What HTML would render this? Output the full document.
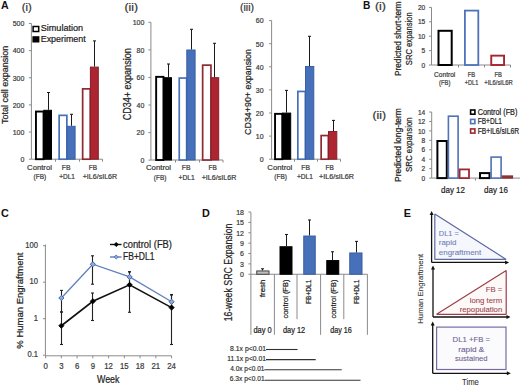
<!DOCTYPE html>
<html><head><meta charset="utf-8"><style>
html,body{margin:0;padding:0;background:#fff;}
svg{display:block;font-family:"Liberation Sans", sans-serif;}
</style></head><body>
<svg width="520" height="386" viewBox="0 0 520 386">
<rect width="520" height="386" fill="#fff"/>
<text transform="translate(0.9,9.3)" font-size="10.6" text-anchor="start" font-weight="bold" fill="#111">A</text>
<text transform="translate(21.8,10.6)" font-size="11" text-anchor="start" font-weight="normal" fill="#333" textLength="10" lengthAdjust="spacingAndGlyphs" stroke="#333" stroke-width="0.22">(i)</text>
<line x1="31.4" y1="23.5" x2="31.4" y2="159.2" stroke="#8A8A8A" stroke-width="1"/>
<line x1="28.9" y1="159.2" x2="31.4" y2="159.2" stroke="#8A8A8A" stroke-width="1"/>
<text transform="translate(24.3,162.02239999999998) scale(0.8929,1)" font-size="7.840000000000001" text-anchor="end" font-weight="normal" fill="#3A3A3A" stroke="#3A3A3A" stroke-width="0.22">0</text>
<line x1="28.9" y1="132.06" x2="31.4" y2="132.06" stroke="#8A8A8A" stroke-width="1"/>
<text transform="translate(24.3,134.8824) scale(0.8929,1)" font-size="7.840000000000001" text-anchor="end" font-weight="normal" fill="#3A3A3A" stroke="#3A3A3A" stroke-width="0.22">100</text>
<line x1="28.9" y1="104.91999999999999" x2="31.4" y2="104.91999999999999" stroke="#8A8A8A" stroke-width="1"/>
<text transform="translate(24.3,107.74239999999999) scale(0.8929,1)" font-size="7.840000000000001" text-anchor="end" font-weight="normal" fill="#3A3A3A" stroke="#3A3A3A" stroke-width="0.22">200</text>
<line x1="28.9" y1="77.78" x2="31.4" y2="77.78" stroke="#8A8A8A" stroke-width="1"/>
<text transform="translate(24.3,80.6024) scale(0.8929,1)" font-size="7.840000000000001" text-anchor="end" font-weight="normal" fill="#3A3A3A" stroke="#3A3A3A" stroke-width="0.22">300</text>
<line x1="28.9" y1="50.64" x2="31.4" y2="50.64" stroke="#8A8A8A" stroke-width="1"/>
<text transform="translate(24.3,53.4624) scale(0.8929,1)" font-size="7.840000000000001" text-anchor="end" font-weight="normal" fill="#3A3A3A" stroke="#3A3A3A" stroke-width="0.22">400</text>
<line x1="28.9" y1="23.5" x2="31.4" y2="23.5" stroke="#8A8A8A" stroke-width="1"/>
<text transform="translate(24.3,26.322400000000002) scale(0.8929,1)" font-size="7.840000000000001" text-anchor="end" font-weight="normal" fill="#3A3A3A" stroke="#3A3A3A" stroke-width="0.22">500</text>
<line x1="31.4" y1="159.2" x2="102.5" y2="159.2" stroke="#8A8A8A" stroke-width="1"/>
<line x1="55.5" y1="159.2" x2="55.5" y2="161.7" stroke="#8A8A8A" stroke-width="1"/>
<line x1="79.5" y1="159.2" x2="79.5" y2="161.7" stroke="#8A8A8A" stroke-width="1"/>
<line x1="102.5" y1="159.2" x2="102.5" y2="161.7" stroke="#8A8A8A" stroke-width="1"/>
<rect x="35.95" y="111.55" width="7.6" height="47.64999999999999" fill="#fff" stroke="#000" stroke-width="1.9"/>
<rect x="43.8" y="110.3" width="7.700000000000003" height="48.89999999999999" fill="#000" stroke="#000" stroke-width="1"/>
<line x1="48.5" y1="92.5" x2="48.5" y2="109.8" stroke="#1a1a1a" stroke-width="1.05"/>
<line x1="47.0" y1="92.5" x2="50.0" y2="92.5" stroke="#1a1a1a" stroke-width="1.05"/>
<rect x="59.15" y="115.35" width="7.7000000000000055" height="43.84999999999999" fill="#fff" stroke="#4770BA" stroke-width="1.7"/>
<rect x="67.0" y="126.3" width="8.099999999999994" height="32.89999999999999" fill="#4770BA" stroke="#3A5FA3" stroke-width="1"/>
<line x1="71.5" y1="114.3" x2="71.5" y2="125.8" stroke="#1a1a1a" stroke-width="1.05"/>
<line x1="70.0" y1="114.3" x2="73.0" y2="114.3" stroke="#1a1a1a" stroke-width="1.05"/>
<rect x="82.64999999999999" y="88.85" width="7.600000000000011" height="70.35" fill="#fff" stroke="#8E2A30" stroke-width="1.7"/>
<rect x="90.4" y="67.1" width="7.8999999999999915" height="92.1" fill="#AC2530" stroke="#86202A" stroke-width="1"/>
<line x1="94.5" y1="40.9" x2="94.5" y2="66.6" stroke="#1a1a1a" stroke-width="1.05"/>
<line x1="93.0" y1="40.9" x2="96.0" y2="40.9" stroke="#1a1a1a" stroke-width="1.05"/>
<rect x="33.1" y="26.5" width="5.6" height="5" fill="#fff" stroke="#000" stroke-width="1.5"/>
<text transform="translate(40.7,31.3)" font-size="9.3" text-anchor="start" font-weight="normal" fill="#222" textLength="42.5" lengthAdjust="spacingAndGlyphs" stroke="#222" stroke-width="0.22">Simulation</text>
<rect x="32.4" y="36.2" width="7" height="6.3" fill="#000" stroke="none" stroke-width="1"/>
<text transform="translate(40.7,41.9)" font-size="9.3" text-anchor="start" font-weight="normal" fill="#222" textLength="45" lengthAdjust="spacingAndGlyphs" stroke="#222" stroke-width="0.22">Experiment</text>
<text transform="translate(39.5,169.9)" font-size="7.3" text-anchor="middle" font-weight="normal" fill="#3A3A3A" textLength="24.8" lengthAdjust="spacingAndGlyphs" stroke="#3A3A3A" stroke-width="0.22">Control</text>
<text transform="translate(39.9,179.2)" font-size="7.3" text-anchor="middle" font-weight="normal" fill="#3A3A3A" textLength="12.6" lengthAdjust="spacingAndGlyphs" stroke="#3A3A3A" stroke-width="0.22">(FB)</text>
<text transform="translate(66.1,169.9)" font-size="7.3" text-anchor="middle" font-weight="normal" fill="#3A3A3A" textLength="8.7" lengthAdjust="spacingAndGlyphs" stroke="#3A3A3A" stroke-width="0.22">FB</text>
<text transform="translate(67.1,179.2)" font-size="7.3" text-anchor="middle" font-weight="normal" fill="#3A3A3A" textLength="15.8" lengthAdjust="spacingAndGlyphs" stroke="#3A3A3A" stroke-width="0.22">+DL1</text>
<text transform="translate(92.9,169.9)" font-size="7.3" text-anchor="middle" font-weight="normal" fill="#3A3A3A" textLength="8.3" lengthAdjust="spacingAndGlyphs" stroke="#3A3A3A" stroke-width="0.22">FB</text>
<text transform="translate(99.9,179.2)" font-size="7.3" text-anchor="middle" font-weight="normal" fill="#3A3A3A" textLength="34.4" lengthAdjust="spacingAndGlyphs" stroke="#3A3A3A" stroke-width="0.22">+IL6/sIL6R</text>
<text transform="translate(7.9,84.9) rotate(-90)" font-size="9.67" text-anchor="middle" font-weight="normal" fill="#222" textLength="78.3" lengthAdjust="spacingAndGlyphs" stroke="#222" stroke-width="0.22">Total cell expansion</text>
<text transform="translate(124.5,10.6)" font-size="11" text-anchor="start" font-weight="normal" fill="#333" textLength="13.5" lengthAdjust="spacingAndGlyphs" stroke="#333" stroke-width="0.22">(ii)</text>
<line x1="150.9" y1="22.3" x2="150.9" y2="160.0" stroke="#8A8A8A" stroke-width="1"/>
<line x1="148.4" y1="160.15" x2="150.9" y2="160.15" stroke="#8A8A8A" stroke-width="1"/>
<text transform="translate(144.3,162.9724) scale(0.8929,1)" font-size="7.840000000000001" text-anchor="end" font-weight="normal" fill="#3A3A3A" stroke="#3A3A3A" stroke-width="0.22">0</text>
<line x1="148.4" y1="132.58" x2="150.9" y2="132.58" stroke="#8A8A8A" stroke-width="1"/>
<text transform="translate(144.3,135.4024) scale(0.8929,1)" font-size="7.840000000000001" text-anchor="end" font-weight="normal" fill="#3A3A3A" stroke="#3A3A3A" stroke-width="0.22">20</text>
<line x1="148.4" y1="105.01" x2="150.9" y2="105.01" stroke="#8A8A8A" stroke-width="1"/>
<text transform="translate(144.3,107.8324) scale(0.8929,1)" font-size="7.840000000000001" text-anchor="end" font-weight="normal" fill="#3A3A3A" stroke="#3A3A3A" stroke-width="0.22">40</text>
<line x1="148.4" y1="77.44" x2="150.9" y2="77.44" stroke="#8A8A8A" stroke-width="1"/>
<text transform="translate(144.3,80.2624) scale(0.8929,1)" font-size="7.840000000000001" text-anchor="end" font-weight="normal" fill="#3A3A3A" stroke="#3A3A3A" stroke-width="0.22">60</text>
<line x1="148.4" y1="49.870000000000005" x2="150.9" y2="49.870000000000005" stroke="#8A8A8A" stroke-width="1"/>
<text transform="translate(144.3,52.692400000000006) scale(0.8929,1)" font-size="7.840000000000001" text-anchor="end" font-weight="normal" fill="#3A3A3A" stroke="#3A3A3A" stroke-width="0.22">80</text>
<line x1="148.4" y1="22.3" x2="150.9" y2="22.3" stroke="#8A8A8A" stroke-width="1"/>
<text transform="translate(144.3,25.122400000000003) scale(0.8929,1)" font-size="7.840000000000001" text-anchor="end" font-weight="normal" fill="#3A3A3A" stroke="#3A3A3A" stroke-width="0.22">100</text>
<line x1="150.9" y1="160.0" x2="223" y2="160.0" stroke="#8A8A8A" stroke-width="1"/>
<line x1="175.5" y1="160.0" x2="175.5" y2="162.5" stroke="#8A8A8A" stroke-width="1"/>
<line x1="199.5" y1="160.0" x2="199.5" y2="162.5" stroke="#8A8A8A" stroke-width="1"/>
<line x1="223" y1="160.0" x2="223" y2="162.5" stroke="#8A8A8A" stroke-width="1"/>
<rect x="156.14999999999998" y="76.85000000000001" width="7.299999999999988" height="83.14999999999999" fill="#fff" stroke="#000" stroke-width="1.9"/>
<rect x="163.7" y="77.7" width="7.800000000000011" height="82.3" fill="#000" stroke="#000" stroke-width="1"/>
<line x1="168.5" y1="64.0" x2="168.5" y2="77.2" stroke="#1a1a1a" stroke-width="1.05"/>
<line x1="167.0" y1="64.0" x2="170.0" y2="64.0" stroke="#1a1a1a" stroke-width="1.05"/>
<rect x="179.25" y="78.05" width="7.399999999999994" height="81.95" fill="#fff" stroke="#4770BA" stroke-width="1.7"/>
<rect x="186.8" y="50.0" width="8.299999999999983" height="110.0" fill="#4770BA" stroke="#3A5FA3" stroke-width="1"/>
<line x1="191.5" y1="29.3" x2="191.5" y2="49.5" stroke="#1a1a1a" stroke-width="1.05"/>
<line x1="190.0" y1="29.3" x2="193.0" y2="29.3" stroke="#1a1a1a" stroke-width="1.05"/>
<rect x="202.65" y="65.14999999999999" width="8.299999999999972" height="94.85000000000001" fill="#fff" stroke="#8E2A30" stroke-width="1.7"/>
<rect x="211.1" y="77.7" width="7.599999999999994" height="82.3" fill="#AC2530" stroke="#86202A" stroke-width="1"/>
<line x1="214.5" y1="43.3" x2="214.5" y2="77.2" stroke="#1a1a1a" stroke-width="1.05"/>
<line x1="213.0" y1="43.3" x2="216.0" y2="43.3" stroke="#1a1a1a" stroke-width="1.05"/>
<text transform="translate(158.5,170.4)" font-size="7.3" text-anchor="middle" font-weight="normal" fill="#3A3A3A" textLength="25.2" lengthAdjust="spacingAndGlyphs" stroke="#3A3A3A" stroke-width="0.22">Control</text>
<text transform="translate(160.1,179.5)" font-size="7.3" text-anchor="middle" font-weight="normal" fill="#3A3A3A" textLength="12.6" lengthAdjust="spacingAndGlyphs" stroke="#3A3A3A" stroke-width="0.22">(FB)</text>
<text transform="translate(186.2,170.4)" font-size="7.3" text-anchor="middle" font-weight="normal" fill="#3A3A3A" textLength="8.7" lengthAdjust="spacingAndGlyphs" stroke="#3A3A3A" stroke-width="0.22">FB</text>
<text transform="translate(186.7,179.5)" font-size="7.3" text-anchor="middle" font-weight="normal" fill="#3A3A3A" textLength="16.2" lengthAdjust="spacingAndGlyphs" stroke="#3A3A3A" stroke-width="0.22">+DL1</text>
<text transform="translate(212.6,170.4)" font-size="7.3" text-anchor="middle" font-weight="normal" fill="#3A3A3A" textLength="8.3" lengthAdjust="spacingAndGlyphs" stroke="#3A3A3A" stroke-width="0.22">FB</text>
<text transform="translate(219.0,179.5)" font-size="7.3" text-anchor="middle" font-weight="normal" fill="#3A3A3A" textLength="34.6" lengthAdjust="spacingAndGlyphs" stroke="#3A3A3A" stroke-width="0.22">+IL6/sIL6R</text>
<text transform="translate(131.3,84.3) rotate(-90)" font-size="10.16" text-anchor="middle" font-weight="normal" fill="#222" textLength="72.0" lengthAdjust="spacingAndGlyphs" stroke="#222" stroke-width="0.22">CD34+ expansion</text>
<text transform="translate(240,10.6)" font-size="11" text-anchor="start" font-weight="normal" fill="#333" textLength="14" lengthAdjust="spacingAndGlyphs" stroke="#333" stroke-width="0.22">(iii)</text>
<line x1="271.6" y1="20.6" x2="271.6" y2="159.2" stroke="#8A8A8A" stroke-width="1"/>
<line x1="269.1" y1="159.2" x2="271.6" y2="159.2" stroke="#8A8A8A" stroke-width="1"/>
<text transform="translate(263.6,162.02239999999998) scale(0.8929,1)" font-size="7.840000000000001" text-anchor="end" font-weight="normal" fill="#3A3A3A" stroke="#3A3A3A" stroke-width="0.22">0</text>
<line x1="269.1" y1="136.1" x2="271.6" y2="136.1" stroke="#8A8A8A" stroke-width="1"/>
<text transform="translate(263.6,138.92239999999998) scale(0.8929,1)" font-size="7.840000000000001" text-anchor="end" font-weight="normal" fill="#3A3A3A" stroke="#3A3A3A" stroke-width="0.22">10</text>
<line x1="269.1" y1="112.99999999999999" x2="271.6" y2="112.99999999999999" stroke="#8A8A8A" stroke-width="1"/>
<text transform="translate(263.6,115.82239999999999) scale(0.8929,1)" font-size="7.840000000000001" text-anchor="end" font-weight="normal" fill="#3A3A3A" stroke="#3A3A3A" stroke-width="0.22">20</text>
<line x1="269.1" y1="89.89999999999999" x2="271.6" y2="89.89999999999999" stroke="#8A8A8A" stroke-width="1"/>
<text transform="translate(263.6,92.7224) scale(0.8929,1)" font-size="7.840000000000001" text-anchor="end" font-weight="normal" fill="#3A3A3A" stroke="#3A3A3A" stroke-width="0.22">30</text>
<line x1="269.1" y1="66.79999999999998" x2="271.6" y2="66.79999999999998" stroke="#8A8A8A" stroke-width="1"/>
<text transform="translate(263.6,69.62239999999998) scale(0.8929,1)" font-size="7.840000000000001" text-anchor="end" font-weight="normal" fill="#3A3A3A" stroke="#3A3A3A" stroke-width="0.22">40</text>
<line x1="269.1" y1="43.69999999999999" x2="271.6" y2="43.69999999999999" stroke="#8A8A8A" stroke-width="1"/>
<text transform="translate(263.6,46.52239999999999) scale(0.8929,1)" font-size="7.840000000000001" text-anchor="end" font-weight="normal" fill="#3A3A3A" stroke="#3A3A3A" stroke-width="0.22">50</text>
<line x1="269.1" y1="20.599999999999994" x2="271.6" y2="20.599999999999994" stroke="#8A8A8A" stroke-width="1"/>
<text transform="translate(263.6,23.422399999999996) scale(0.8929,1)" font-size="7.840000000000001" text-anchor="end" font-weight="normal" fill="#3A3A3A" stroke="#3A3A3A" stroke-width="0.22">60</text>
<line x1="271.6" y1="159.2" x2="340.5" y2="159.2" stroke="#8A8A8A" stroke-width="1"/>
<line x1="294.5" y1="159.2" x2="294.5" y2="161.7" stroke="#8A8A8A" stroke-width="1"/>
<line x1="317.5" y1="159.2" x2="317.5" y2="161.7" stroke="#8A8A8A" stroke-width="1"/>
<line x1="340.5" y1="159.2" x2="340.5" y2="161.7" stroke="#8A8A8A" stroke-width="1"/>
<rect x="275.05" y="113.85000000000001" width="7.1999999999999655" height="45.34999999999998" fill="#fff" stroke="#000" stroke-width="1.9"/>
<rect x="282.5" y="113.1" width="8.199999999999989" height="46.099999999999994" fill="#000" stroke="#000" stroke-width="1"/>
<line x1="286.5" y1="90.4" x2="286.5" y2="112.6" stroke="#1a1a1a" stroke-width="1.05"/>
<line x1="285.0" y1="90.4" x2="288.0" y2="90.4" stroke="#1a1a1a" stroke-width="1.05"/>
<rect x="297.85" y="91.44999999999999" width="7.4999999999999885" height="67.75" fill="#fff" stroke="#4770BA" stroke-width="1.7"/>
<rect x="305.5" y="66.5" width="8.300000000000011" height="92.69999999999999" fill="#4770BA" stroke="#3A5FA3" stroke-width="1"/>
<line x1="309.5" y1="36.3" x2="309.5" y2="66.0" stroke="#1a1a1a" stroke-width="1.05"/>
<line x1="308.0" y1="36.3" x2="311.0" y2="36.3" stroke="#1a1a1a" stroke-width="1.05"/>
<rect x="321.15000000000003" y="135.54999999999998" width="7.199999999999977" height="23.65" fill="#fff" stroke="#8E2A30" stroke-width="1.7"/>
<rect x="328.5" y="131.5" width="8.300000000000011" height="27.69999999999999" fill="#AC2530" stroke="#86202A" stroke-width="1"/>
<line x1="333.5" y1="120.4" x2="333.5" y2="131.0" stroke="#1a1a1a" stroke-width="1.05"/>
<line x1="332.0" y1="120.4" x2="335.0" y2="120.4" stroke="#1a1a1a" stroke-width="1.05"/>
<text transform="translate(279.8,169.8)" font-size="7.3" text-anchor="middle" font-weight="normal" fill="#3A3A3A" textLength="25.0" lengthAdjust="spacingAndGlyphs" stroke="#3A3A3A" stroke-width="0.22">Control</text>
<text transform="translate(280.6,178.9)" font-size="7.3" text-anchor="middle" font-weight="normal" fill="#3A3A3A" textLength="12.6" lengthAdjust="spacingAndGlyphs" stroke="#3A3A3A" stroke-width="0.22">(FB)</text>
<text transform="translate(305.7,169.8)" font-size="7.3" text-anchor="middle" font-weight="normal" fill="#3A3A3A" textLength="8.7" lengthAdjust="spacingAndGlyphs" stroke="#3A3A3A" stroke-width="0.22">FB</text>
<text transform="translate(304.9,178.9)" font-size="7.3" text-anchor="middle" font-weight="normal" fill="#3A3A3A" textLength="16" lengthAdjust="spacingAndGlyphs" stroke="#3A3A3A" stroke-width="0.22">+DL1</text>
<text transform="translate(329.7,169.8)" font-size="7.3" text-anchor="middle" font-weight="normal" fill="#3A3A3A" textLength="8.3" lengthAdjust="spacingAndGlyphs" stroke="#3A3A3A" stroke-width="0.22">FB</text>
<text transform="translate(336.5,178.9)" font-size="7.3" text-anchor="middle" font-weight="normal" fill="#3A3A3A" textLength="35" lengthAdjust="spacingAndGlyphs" stroke="#3A3A3A" stroke-width="0.22">+IL6/sIL6R</text>
<text transform="translate(250.7,92.0) rotate(-90)" font-size="9.98" text-anchor="middle" font-weight="normal" fill="#222" textLength="85.9" lengthAdjust="spacingAndGlyphs" stroke="#222" stroke-width="0.22">CD34+90+ expansion</text>
<text transform="translate(363,9)" font-size="10.2" text-anchor="start" font-weight="bold" fill="#111">B</text>
<text transform="translate(374.9,9.8)" font-size="11" text-anchor="start" font-weight="normal" fill="#333" textLength="11" lengthAdjust="spacingAndGlyphs" stroke="#333" stroke-width="0.22">(i)</text>
<line x1="431.5" y1="7.4" x2="431.5" y2="65.0" stroke="#8A8A8A" stroke-width="1"/>
<line x1="429.0" y1="65.0" x2="431.5" y2="65.0" stroke="#8A8A8A" stroke-width="1"/>
<text transform="translate(425.3,67.66112) scale(0.8929,1)" font-size="7.392" text-anchor="end" font-weight="normal" fill="#3A3A3A" stroke="#3A3A3A" stroke-width="0.22">0</text>
<line x1="429.0" y1="50.6" x2="431.5" y2="50.6" stroke="#8A8A8A" stroke-width="1"/>
<text transform="translate(425.3,53.26112) scale(0.8929,1)" font-size="7.392" text-anchor="end" font-weight="normal" fill="#3A3A3A" stroke="#3A3A3A" stroke-width="0.22">5</text>
<line x1="429.0" y1="36.2" x2="431.5" y2="36.2" stroke="#8A8A8A" stroke-width="1"/>
<text transform="translate(425.3,38.86112) scale(0.8929,1)" font-size="7.392" text-anchor="end" font-weight="normal" fill="#3A3A3A" stroke="#3A3A3A" stroke-width="0.22">10</text>
<line x1="429.0" y1="21.800000000000004" x2="431.5" y2="21.800000000000004" stroke="#8A8A8A" stroke-width="1"/>
<text transform="translate(425.3,24.461120000000005) scale(0.8929,1)" font-size="7.392" text-anchor="end" font-weight="normal" fill="#3A3A3A" stroke="#3A3A3A" stroke-width="0.22">15</text>
<line x1="429.0" y1="7.400000000000006" x2="431.5" y2="7.400000000000006" stroke="#8A8A8A" stroke-width="1"/>
<text transform="translate(425.3,10.061120000000006) scale(0.8929,1)" font-size="7.392" text-anchor="end" font-weight="normal" fill="#3A3A3A" stroke="#3A3A3A" stroke-width="0.22">20</text>
<line x1="431.5" y1="65.0" x2="510.5" y2="65.0" stroke="#8A8A8A" stroke-width="1"/>
<line x1="458.5" y1="65.0" x2="458.5" y2="67.5" stroke="#8A8A8A" stroke-width="1"/>
<line x1="484.5" y1="65.0" x2="484.5" y2="67.5" stroke="#8A8A8A" stroke-width="1"/>
<line x1="510.5" y1="65.0" x2="510.5" y2="67.5" stroke="#8A8A8A" stroke-width="1"/>
<rect x="438.5" y="30.8" width="13.199999999999989" height="34.2" fill="#fff" stroke="#000" stroke-width="2"/>
<rect x="464.9" y="10.6" width="13.399999999999988" height="54.4" fill="#fff" stroke="#4F72B8" stroke-width="1.8"/>
<rect x="491.25" y="55.650000000000006" width="12.799999999999988" height="9.349999999999998" fill="#fff" stroke="#A3262F" stroke-width="1.9"/>
<text transform="translate(444.7,76.9)" font-size="7.2" text-anchor="middle" font-weight="normal" fill="#3A3A3A" textLength="21.2" lengthAdjust="spacingAndGlyphs" stroke="#3A3A3A" stroke-width="0.22">Control</text>
<text transform="translate(444.7,84.5)" font-size="7.2" text-anchor="middle" font-weight="normal" fill="#3A3A3A" textLength="11.3" lengthAdjust="spacingAndGlyphs" stroke="#3A3A3A" stroke-width="0.22">(FB)</text>
<text transform="translate(471.5,76.9)" font-size="7.2" text-anchor="middle" font-weight="normal" fill="#3A3A3A" textLength="7.4" lengthAdjust="spacingAndGlyphs" stroke="#3A3A3A" stroke-width="0.22">FB</text>
<text transform="translate(471.5,84.5)" font-size="7.2" text-anchor="middle" font-weight="normal" fill="#3A3A3A" textLength="13.5" lengthAdjust="spacingAndGlyphs" stroke="#3A3A3A" stroke-width="0.22">+DL1</text>
<text transform="translate(498.1,76.9)" font-size="7.2" text-anchor="middle" font-weight="normal" fill="#3A3A3A" textLength="7.4" lengthAdjust="spacingAndGlyphs" stroke="#3A3A3A" stroke-width="0.22">FB</text>
<text transform="translate(498.5,84.5)" font-size="7.2" text-anchor="middle" font-weight="normal" fill="#3A3A3A" textLength="28.5" lengthAdjust="spacingAndGlyphs" stroke="#3A3A3A" stroke-width="0.22">+IL6/sIL6R</text>
<text transform="translate(401.3,38.7) rotate(-90)" font-size="8.65" text-anchor="middle" font-weight="normal" fill="#222" textLength="74.6" lengthAdjust="spacingAndGlyphs" stroke="#222" stroke-width="0.22">Predicted short-term</text>
<text transform="translate(411.8,38.65) rotate(-90)" font-size="8.88" text-anchor="middle" font-weight="normal" fill="#222" textLength="53.0" lengthAdjust="spacingAndGlyphs" stroke="#222" stroke-width="0.22">SRC expansion</text>
<text transform="translate(372.5,119)" font-size="11" text-anchor="start" font-weight="normal" fill="#333" textLength="13.5" lengthAdjust="spacingAndGlyphs" stroke="#333" stroke-width="0.22">(ii)</text>
<line x1="431.7" y1="112" x2="431.7" y2="178.1" stroke="#8A8A8A" stroke-width="1"/>
<line x1="429.2" y1="178.1" x2="431.7" y2="178.1" stroke="#8A8A8A" stroke-width="1"/>
<text transform="translate(425.3,180.76112) scale(0.8929,1)" font-size="7.392" text-anchor="end" font-weight="normal" fill="#3A3A3A" stroke="#3A3A3A" stroke-width="0.22">0</text>
<line x1="429.2" y1="168.66" x2="431.7" y2="168.66" stroke="#8A8A8A" stroke-width="1"/>
<text transform="translate(425.3,171.32112) scale(0.8929,1)" font-size="7.392" text-anchor="end" font-weight="normal" fill="#3A3A3A" stroke="#3A3A3A" stroke-width="0.22">2</text>
<line x1="429.2" y1="159.22" x2="431.7" y2="159.22" stroke="#8A8A8A" stroke-width="1"/>
<text transform="translate(425.3,161.88112) scale(0.8929,1)" font-size="7.392" text-anchor="end" font-weight="normal" fill="#3A3A3A" stroke="#3A3A3A" stroke-width="0.22">4</text>
<line x1="429.2" y1="149.78" x2="431.7" y2="149.78" stroke="#8A8A8A" stroke-width="1"/>
<text transform="translate(425.3,152.44112) scale(0.8929,1)" font-size="7.392" text-anchor="end" font-weight="normal" fill="#3A3A3A" stroke="#3A3A3A" stroke-width="0.22">6</text>
<line x1="429.2" y1="140.34" x2="431.7" y2="140.34" stroke="#8A8A8A" stroke-width="1"/>
<text transform="translate(425.3,143.00112000000001) scale(0.8929,1)" font-size="7.392" text-anchor="end" font-weight="normal" fill="#3A3A3A" stroke="#3A3A3A" stroke-width="0.22">8</text>
<line x1="429.2" y1="130.9" x2="431.7" y2="130.9" stroke="#8A8A8A" stroke-width="1"/>
<text transform="translate(425.3,133.56112000000002) scale(0.8929,1)" font-size="7.392" text-anchor="end" font-weight="normal" fill="#3A3A3A" stroke="#3A3A3A" stroke-width="0.22">10</text>
<line x1="429.2" y1="121.46" x2="431.7" y2="121.46" stroke="#8A8A8A" stroke-width="1"/>
<text transform="translate(425.3,124.12111999999999) scale(0.8929,1)" font-size="7.392" text-anchor="end" font-weight="normal" fill="#3A3A3A" stroke="#3A3A3A" stroke-width="0.22">12</text>
<line x1="429.2" y1="112.02" x2="431.7" y2="112.02" stroke="#8A8A8A" stroke-width="1"/>
<text transform="translate(425.3,114.68111999999999) scale(0.8929,1)" font-size="7.392" text-anchor="end" font-weight="normal" fill="#3A3A3A" stroke="#3A3A3A" stroke-width="0.22">14</text>
<line x1="431.7" y1="178.1" x2="520" y2="178.1" stroke="#8A8A8A" stroke-width="1"/>
<line x1="475.4" y1="178.1" x2="475.4" y2="180.6" stroke="#8A8A8A" stroke-width="1"/>
<rect x="437.4" y="141.0" width="9.400000000000034" height="37.099999999999994" fill="#fff" stroke="#000" stroke-width="2"/>
<rect x="448.40000000000003" y="116.2" width="9.699999999999955" height="61.89999999999999" fill="#fff" stroke="#4F72B8" stroke-width="1.6"/>
<rect x="459.59999999999997" y="169.4" width="9.399999999999988" height="8.699999999999994" fill="#fff" stroke="#A3262F" stroke-width="1.8"/>
<rect x="480.0" y="173.1" width="9.5" height="5.0" fill="#fff" stroke="#000" stroke-width="2"/>
<rect x="491.1" y="157.10000000000002" width="9.999999999999966" height="20.999999999999982" fill="#fff" stroke="#4F72B8" stroke-width="1.6"/>
<rect x="502.2" y="175.9" width="10.400000000000034" height="2.1999999999999886" fill="#8E3A3A" stroke="#8A2A2E" stroke-width="1"/>
<rect x="470.6" y="110.0" width="4.3" height="4.2" fill="#fff" stroke="#000" stroke-width="1.6"/>
<text transform="translate(477.7,115.0)" font-size="8.4" text-anchor="start" font-weight="normal" fill="#222" textLength="39.7" lengthAdjust="spacingAndGlyphs" stroke="#222" stroke-width="0.22">Control (FB)</text>
<rect x="470.6" y="119.4" width="4.3" height="4.2" fill="#fff" stroke="#4F72B8" stroke-width="1.6"/>
<text transform="translate(477.7,124.4)" font-size="8.4" text-anchor="start" font-weight="normal" fill="#222" textLength="24.3" lengthAdjust="spacingAndGlyphs" stroke="#222" stroke-width="0.22">FB+DL1</text>
<rect x="470.6" y="128.9" width="4.3" height="4.2" fill="#fff" stroke="#A3262F" stroke-width="1.6"/>
<text transform="translate(477.7,133.9)" font-size="8.4" text-anchor="start" font-weight="normal" fill="#222" textLength="41.3" lengthAdjust="spacingAndGlyphs" stroke="#222" stroke-width="0.22">FB+IL6/sIL6R</text>
<text transform="translate(453,193.2)" font-size="9.5" text-anchor="middle" font-weight="normal" fill="#222" textLength="24" lengthAdjust="spacingAndGlyphs" stroke="#222" stroke-width="0.22">day 12</text>
<text transform="translate(496,193.2)" font-size="9.5" text-anchor="middle" font-weight="normal" fill="#222" textLength="24" lengthAdjust="spacingAndGlyphs" stroke="#222" stroke-width="0.22">day 16</text>
<text transform="translate(400.8,145) rotate(-90)" font-size="8.95" text-anchor="middle" font-weight="normal" fill="#222" textLength="73.8" lengthAdjust="spacingAndGlyphs" stroke="#222" stroke-width="0.22">Predicted long-term</text>
<text transform="translate(411.5,144.7) rotate(-90)" font-size="9.17" text-anchor="middle" font-weight="normal" fill="#222" textLength="54.7" lengthAdjust="spacingAndGlyphs" stroke="#222" stroke-width="0.22">SRC expansion</text>
<text transform="translate(1,217)" font-size="10.8" text-anchor="start" font-weight="bold" fill="#111">C</text>
<line x1="45.4" y1="244.5" x2="45.4" y2="355.8" stroke="#8A8A8A" stroke-width="1"/>
<line x1="43" y1="245.7" x2="45.4" y2="245.7" stroke="#8A8A8A" stroke-width="1"/>
<text transform="translate(38.0,247.79999999999998) scale(0.8929,1)" font-size="8.512" text-anchor="end" font-weight="normal" fill="#3A3A3A" stroke="#3A3A3A" stroke-width="0.22">100</text>
<line x1="43" y1="282.2" x2="45.4" y2="282.2" stroke="#8A8A8A" stroke-width="1"/>
<text transform="translate(38.0,284.3) scale(0.8929,1)" font-size="8.512" text-anchor="end" font-weight="normal" fill="#3A3A3A" stroke="#3A3A3A" stroke-width="0.22">10</text>
<line x1="43" y1="318.7" x2="45.4" y2="318.7" stroke="#8A8A8A" stroke-width="1"/>
<text transform="translate(38.0,320.8) scale(0.8929,1)" font-size="8.512" text-anchor="end" font-weight="normal" fill="#3A3A3A" stroke="#3A3A3A" stroke-width="0.22">1</text>
<line x1="43" y1="355.2" x2="45.4" y2="355.2" stroke="#8A8A8A" stroke-width="1"/>
<text transform="translate(38.0,357.3) scale(0.8929,1)" font-size="8.512" text-anchor="end" font-weight="normal" fill="#3A3A3A" stroke="#3A3A3A" stroke-width="0.22">0.1</text>
<line x1="45.4" y1="355.8" x2="171.6" y2="355.8" stroke="#8A8A8A" stroke-width="1"/>
<line x1="45.6" y1="355.8" x2="45.6" y2="358.3" stroke="#8A8A8A" stroke-width="1"/>
<text transform="translate(45.6,369.0) scale(0.8929,1)" font-size="8.736" text-anchor="middle" font-weight="normal" fill="#3A3A3A" stroke="#3A3A3A" stroke-width="0.22">0</text>
<line x1="61.35" y1="355.8" x2="61.35" y2="358.3" stroke="#8A8A8A" stroke-width="1"/>
<text transform="translate(61.35,369.0) scale(0.8929,1)" font-size="8.736" text-anchor="middle" font-weight="normal" fill="#3A3A3A" stroke="#3A3A3A" stroke-width="0.22">3</text>
<line x1="77.1" y1="355.8" x2="77.1" y2="358.3" stroke="#8A8A8A" stroke-width="1"/>
<text transform="translate(77.1,369.0) scale(0.8929,1)" font-size="8.736" text-anchor="middle" font-weight="normal" fill="#3A3A3A" stroke="#3A3A3A" stroke-width="0.22">6</text>
<line x1="92.85" y1="355.8" x2="92.85" y2="358.3" stroke="#8A8A8A" stroke-width="1"/>
<text transform="translate(92.85,369.0) scale(0.8929,1)" font-size="8.736" text-anchor="middle" font-weight="normal" fill="#3A3A3A" stroke="#3A3A3A" stroke-width="0.22">9</text>
<line x1="108.6" y1="355.8" x2="108.6" y2="358.3" stroke="#8A8A8A" stroke-width="1"/>
<text transform="translate(108.6,369.0) scale(0.8929,1)" font-size="8.736" text-anchor="middle" font-weight="normal" fill="#3A3A3A" stroke="#3A3A3A" stroke-width="0.22">12</text>
<line x1="124.35" y1="355.8" x2="124.35" y2="358.3" stroke="#8A8A8A" stroke-width="1"/>
<text transform="translate(124.35,369.0) scale(0.8929,1)" font-size="8.736" text-anchor="middle" font-weight="normal" fill="#3A3A3A" stroke="#3A3A3A" stroke-width="0.22">15</text>
<line x1="140.1" y1="355.8" x2="140.1" y2="358.3" stroke="#8A8A8A" stroke-width="1"/>
<text transform="translate(140.1,369.0) scale(0.8929,1)" font-size="8.736" text-anchor="middle" font-weight="normal" fill="#3A3A3A" stroke="#3A3A3A" stroke-width="0.22">18</text>
<line x1="155.85" y1="355.8" x2="155.85" y2="358.3" stroke="#8A8A8A" stroke-width="1"/>
<text transform="translate(155.85,369.0) scale(0.8929,1)" font-size="8.736" text-anchor="middle" font-weight="normal" fill="#3A3A3A" stroke="#3A3A3A" stroke-width="0.22">21</text>
<line x1="171.6" y1="355.8" x2="171.6" y2="358.3" stroke="#8A8A8A" stroke-width="1"/>
<text transform="translate(171.6,369.0) scale(0.8929,1)" font-size="8.736" text-anchor="middle" font-weight="normal" fill="#3A3A3A" stroke="#3A3A3A" stroke-width="0.22">24</text>
<text transform="translate(108.2,382.5)" font-size="10.8" text-anchor="middle" font-weight="normal" fill="#222" textLength="22.5" lengthAdjust="spacingAndGlyphs" stroke="#222" stroke-width="0.22">Week</text>
<text transform="translate(23.3,300.6) rotate(-90)" font-size="9.5" text-anchor="middle" font-weight="normal" fill="#222" textLength="96.1" lengthAdjust="spacingAndGlyphs" stroke="#222" stroke-width="0.22">% Human Engraftment</text>
<line x1="61.5" y1="312" x2="61.5" y2="344.5" stroke="#222" stroke-width="1.1"/>
<line x1="60.0" y1="312" x2="63.0" y2="312" stroke="#222" stroke-width="1.1"/>
<line x1="60.0" y1="344.5" x2="63.0" y2="344.5" stroke="#222" stroke-width="1.1"/>
<line x1="92.5" y1="293" x2="92.5" y2="320.5" stroke="#222" stroke-width="1.1"/>
<line x1="91.0" y1="293" x2="94.0" y2="293" stroke="#222" stroke-width="1.1"/>
<line x1="91.0" y1="320.5" x2="94.0" y2="320.5" stroke="#222" stroke-width="1.1"/>
<line x1="129.5" y1="271.8" x2="129.5" y2="312.3" stroke="#222" stroke-width="1.1"/>
<line x1="128.0" y1="271.8" x2="131.0" y2="271.8" stroke="#222" stroke-width="1.1"/>
<line x1="128.0" y1="312.3" x2="131.0" y2="312.3" stroke="#222" stroke-width="1.1"/>
<line x1="171.5" y1="294.5" x2="171.5" y2="344.5" stroke="#222" stroke-width="1.1"/>
<line x1="170.0" y1="294.5" x2="173.0" y2="294.5" stroke="#222" stroke-width="1.1"/>
<line x1="170.0" y1="344.5" x2="173.0" y2="344.5" stroke="#222" stroke-width="1.1"/>
<line x1="60.0" y1="290.4" x2="63.0" y2="290.4" stroke="#222" stroke-width="1.1"/>
<line x1="61.5" y1="290.4" x2="61.5" y2="312" stroke="#222" stroke-width="1.1"/>
<line x1="60.0" y1="312" x2="63.0" y2="312" stroke="#222" stroke-width="1.1"/>
<line x1="91.0" y1="255.8" x2="94.0" y2="255.8" stroke="#222" stroke-width="1.1"/>
<line x1="92.5" y1="255.8" x2="92.5" y2="284.2" stroke="#222" stroke-width="1.1"/>
<line x1="91.0" y1="284.2" x2="94.0" y2="284.2" stroke="#222" stroke-width="1.1"/>
<line x1="128.0" y1="271.8" x2="131.0" y2="271.8" stroke="#222" stroke-width="1.1"/>
<line x1="129.5" y1="271.8" x2="129.5" y2="284" stroke="#222" stroke-width="1.1"/>
<line x1="128.0" y1="284" x2="131.0" y2="284" stroke="#222" stroke-width="1.1"/>
<line x1="170.0" y1="295" x2="173.0" y2="295" stroke="#222" stroke-width="1.1"/>
<line x1="171.5" y1="295" x2="171.5" y2="307" stroke="#222" stroke-width="1.1"/>
<line x1="170.0" y1="307" x2="173.0" y2="307" stroke="#222" stroke-width="1.1"/>
<polyline points="61.35,325.75 92.85,301.25 129.6,284.8 171.6,307.6" fill="none" stroke="#111" stroke-width="1.6"/>
<polyline points="61.35,298 92.85,264.25 129.6,276.9 171.6,301.8" fill="none" stroke="#5F80BE" stroke-width="1.3"/>
<polygon points="61.35,323.15 63.95,325.75 61.35,328.35 58.75,325.75" fill="#000" stroke="#000" stroke-width="0.8"/>
<polygon points="92.85,298.65 95.44999999999999,301.25 92.85,303.85 90.25,301.25" fill="#000" stroke="#000" stroke-width="0.8"/>
<polygon points="129.6,282.2 132.2,284.8 129.6,287.40000000000003 127.0,284.8" fill="#000" stroke="#000" stroke-width="0.8"/>
<polygon points="171.6,305.0 174.2,307.6 171.6,310.20000000000005 169.0,307.6" fill="#000" stroke="#000" stroke-width="0.8"/>
<polygon points="61.35,295.4 63.95,298 61.35,300.6 58.75,298" fill="#8FA8D8" stroke="#4A6AAE" stroke-width="1.0"/>
<polygon points="92.85,261.65 95.44999999999999,264.25 92.85,266.85 90.25,264.25" fill="#8FA8D8" stroke="#4A6AAE" stroke-width="1.0"/>
<polygon points="129.6,274.29999999999995 132.2,276.9 129.6,279.5 127.0,276.9" fill="#8FA8D8" stroke="#4A6AAE" stroke-width="1.0"/>
<polygon points="171.6,299.2 174.2,301.8 171.6,304.40000000000003 169.0,301.8" fill="#8FA8D8" stroke="#4A6AAE" stroke-width="1.0"/>
<line x1="110" y1="244.5" x2="121.5" y2="244.5" stroke="#111" stroke-width="1.4"/>
<polygon points="116.2,242.4 118.3,244.5 116.2,246.6 114.10000000000001,244.5" fill="#000" stroke="#000" stroke-width="0.8"/>
<text transform="translate(123,247.8)" font-size="10.2" text-anchor="start" font-weight="normal" fill="#222" textLength="49" lengthAdjust="spacingAndGlyphs" stroke="#222" stroke-width="0.22">control (FB)</text>
<line x1="110" y1="257" x2="121.5" y2="257" stroke="#5B7BBE" stroke-width="1.4"/>
<polygon points="116.2,254.9 118.3,257 116.2,259.1 114.10000000000001,257" fill="#8FA8D8" stroke="#4A6FB5" stroke-width="0.8"/>
<text transform="translate(123,260.4)" font-size="10.2" text-anchor="start" font-weight="normal" fill="#222" textLength="31.5" lengthAdjust="spacingAndGlyphs" stroke="#222" stroke-width="0.22">FB+DL1</text>
<text transform="translate(202,217)" font-size="10.8" text-anchor="start" font-weight="bold" fill="#111">D</text>
<line x1="250.9" y1="212.2" x2="250.9" y2="334.8" stroke="#8A8A8A" stroke-width="1"/>
<line x1="248.4" y1="274.25" x2="250.9" y2="274.25" stroke="#8A8A8A" stroke-width="1"/>
<text transform="translate(244.0,277.15) scale(0.8929,1)" font-size="7.840000000000001" text-anchor="end" font-weight="normal" fill="#3A3A3A" stroke="#3A3A3A" stroke-width="0.22">0</text>
<line x1="248.4" y1="263.876" x2="250.9" y2="263.876" stroke="#8A8A8A" stroke-width="1"/>
<text transform="translate(244.0,266.77599999999995) scale(0.8929,1)" font-size="7.840000000000001" text-anchor="end" font-weight="normal" fill="#3A3A3A" stroke="#3A3A3A" stroke-width="0.22">3</text>
<line x1="248.4" y1="253.502" x2="250.9" y2="253.502" stroke="#8A8A8A" stroke-width="1"/>
<text transform="translate(244.0,256.402) scale(0.8929,1)" font-size="7.840000000000001" text-anchor="end" font-weight="normal" fill="#3A3A3A" stroke="#3A3A3A" stroke-width="0.22">6</text>
<line x1="248.4" y1="243.128" x2="250.9" y2="243.128" stroke="#8A8A8A" stroke-width="1"/>
<text transform="translate(244.0,246.028) scale(0.8929,1)" font-size="7.840000000000001" text-anchor="end" font-weight="normal" fill="#3A3A3A" stroke="#3A3A3A" stroke-width="0.22">9</text>
<line x1="248.4" y1="232.754" x2="250.9" y2="232.754" stroke="#8A8A8A" stroke-width="1"/>
<text transform="translate(244.0,235.654) scale(0.8929,1)" font-size="7.840000000000001" text-anchor="end" font-weight="normal" fill="#3A3A3A" stroke="#3A3A3A" stroke-width="0.22">12</text>
<line x1="248.4" y1="222.38" x2="250.9" y2="222.38" stroke="#8A8A8A" stroke-width="1"/>
<text transform="translate(244.0,225.28) scale(0.8929,1)" font-size="7.840000000000001" text-anchor="end" font-weight="normal" fill="#3A3A3A" stroke="#3A3A3A" stroke-width="0.22">15</text>
<line x1="248.4" y1="212.006" x2="250.9" y2="212.006" stroke="#8A8A8A" stroke-width="1"/>
<text transform="translate(244.0,214.906) scale(0.8929,1)" font-size="7.840000000000001" text-anchor="end" font-weight="normal" fill="#3A3A3A" stroke="#3A3A3A" stroke-width="0.22">18</text>
<line x1="250.9" y1="274.25" x2="367.4" y2="274.25" stroke="#8A8A8A" stroke-width="1"/>
<line x1="274.4" y1="274.25" x2="274.4" y2="334.8" stroke="#8A8A8A" stroke-width="1"/>
<line x1="297.0" y1="274.25" x2="297.0" y2="319.2" stroke="#8A8A8A" stroke-width="1"/>
<line x1="320.6" y1="274.25" x2="320.6" y2="334.8" stroke="#8A8A8A" stroke-width="1"/>
<line x1="343.8" y1="274.25" x2="343.8" y2="319.2" stroke="#8A8A8A" stroke-width="1"/>
<line x1="367.4" y1="274.25" x2="367.4" y2="334.8" stroke="#8A8A8A" stroke-width="1"/>
<rect x="256.75" y="270.9462" width="12.25" height="3.303800000000024" fill="#BDBDBD" stroke="#444" stroke-width="1"/>
<line x1="262.5" y1="268.8" x2="262.5" y2="270.4462" stroke="#1a1a1a" stroke-width="1.05"/>
<line x1="261.0" y1="268.8" x2="264.0" y2="268.8" stroke="#1a1a1a" stroke-width="1.05"/>
<rect x="280.0" y="246.7402" width="12.0" height="27.509800000000013" fill="#000" stroke="#000" stroke-width="1"/>
<line x1="286.5" y1="234.483" x2="286.5" y2="246.2402" stroke="#1a1a1a" stroke-width="1.05"/>
<line x1="285.0" y1="234.483" x2="288.0" y2="234.483" stroke="#1a1a1a" stroke-width="1.05"/>
<rect x="303.75" y="236.0204" width="11.5" height="38.229600000000005" fill="#4770BA" stroke="#3A5FA3" stroke-width="1"/>
<line x1="309.5" y1="219.95940000000002" x2="309.5" y2="235.5204" stroke="#1a1a1a" stroke-width="1.05"/>
<line x1="308.0" y1="219.95940000000002" x2="311.0" y2="219.95940000000002" stroke="#1a1a1a" stroke-width="1.05"/>
<rect x="326.75" y="260.5722" width="12.0" height="13.67779999999999" fill="#000" stroke="#000" stroke-width="1"/>
<line x1="332.5" y1="251.773" x2="332.5" y2="260.0722" stroke="#1a1a1a" stroke-width="1.05"/>
<line x1="331.0" y1="251.773" x2="334.0" y2="251.773" stroke="#1a1a1a" stroke-width="1.05"/>
<rect x="349.75" y="252.9646" width="12.25" height="21.28540000000001" fill="#4770BA" stroke="#3A5FA3" stroke-width="1"/>
<line x1="356.5" y1="241.399" x2="356.5" y2="252.4646" stroke="#1a1a1a" stroke-width="1.05"/>
<line x1="355.0" y1="241.399" x2="358.0" y2="241.399" stroke="#1a1a1a" stroke-width="1.05"/>
<text transform="translate(265.4,279.6) rotate(-90)" font-size="7.8" text-anchor="end" font-weight="normal" fill="#222" textLength="17.6" lengthAdjust="spacingAndGlyphs" stroke="#222" stroke-width="0.22">fresh</text>
<text transform="translate(288.3,279.6) rotate(-90)" font-size="7.8" text-anchor="end" font-weight="normal" fill="#222" textLength="39" lengthAdjust="spacingAndGlyphs" stroke="#222" stroke-width="0.22">control (FB)</text>
<text transform="translate(311.4,279.6) rotate(-90)" font-size="7.8" text-anchor="end" font-weight="normal" fill="#222" textLength="24.3" lengthAdjust="spacingAndGlyphs" stroke="#222" stroke-width="0.22">FB+DL1</text>
<text transform="translate(335.59999999999997,279.6) rotate(-90)" font-size="7.8" text-anchor="end" font-weight="normal" fill="#222" textLength="39" lengthAdjust="spacingAndGlyphs" stroke="#222" stroke-width="0.22">control (FB)</text>
<text transform="translate(359.2,279.6) rotate(-90)" font-size="7.8" text-anchor="end" font-weight="normal" fill="#222" textLength="24.3" lengthAdjust="spacingAndGlyphs" stroke="#222" stroke-width="0.22">FB+DL1</text>
<text transform="translate(262.6,332.8)" font-size="8.6" text-anchor="middle" font-weight="normal" fill="#222" textLength="18.3" lengthAdjust="spacingAndGlyphs" stroke="#222" stroke-width="0.22">day 0</text>
<text transform="translate(294.1,332.8)" font-size="8.6" text-anchor="middle" font-weight="normal" fill="#222" textLength="22.2" lengthAdjust="spacingAndGlyphs" stroke="#222" stroke-width="0.22">day 12</text>
<text transform="translate(341,332.8)" font-size="8.6" text-anchor="middle" font-weight="normal" fill="#222" textLength="21.5" lengthAdjust="spacingAndGlyphs" stroke="#222" stroke-width="0.22">day 16</text>
<text transform="translate(231.5,272.45) rotate(-90)" font-size="10.11" text-anchor="middle" font-weight="normal" fill="#222" textLength="97.8" lengthAdjust="spacingAndGlyphs" stroke="#222" stroke-width="0.22">16-week SRC Expansion</text>
<text transform="translate(266.0,350.6)" font-size="6.8" text-anchor="end" font-weight="normal" fill="#2a2a2a" textLength="35.9" lengthAdjust="spacingAndGlyphs" stroke="#2a2a2a" stroke-width="0.15">8.1x p&lt;0.01</text>
<line x1="266.0" y1="349.5" x2="297.6" y2="349.5" stroke="#333" stroke-width="1.1"/>
<text transform="translate(266.0,360.6)" font-size="6.8" text-anchor="end" font-weight="normal" fill="#2a2a2a" textLength="38.8" lengthAdjust="spacingAndGlyphs" stroke="#2a2a2a" stroke-width="0.15">11.1x p&lt;0.01</text>
<line x1="266.0" y1="359.6" x2="315.7" y2="359.6" stroke="#333" stroke-width="1.1"/>
<text transform="translate(264.4,370.6)" font-size="6.8" text-anchor="end" font-weight="normal" fill="#2a2a2a" textLength="34.2" lengthAdjust="spacingAndGlyphs" stroke="#2a2a2a" stroke-width="0.15">4.0x p&lt;0.01</text>
<line x1="264.4" y1="369.8" x2="341.7" y2="369.8" stroke="#333" stroke-width="1.1"/>
<text transform="translate(264.6,380.7)" font-size="6.8" text-anchor="end" font-weight="normal" fill="#2a2a2a" textLength="34.8" lengthAdjust="spacingAndGlyphs" stroke="#2a2a2a" stroke-width="0.15">6.3x p&lt;0.01</text>
<line x1="264.6" y1="380.2" x2="360.5" y2="380.2" stroke="#333" stroke-width="1.1"/>
<text transform="translate(403.7,217)" font-size="10.8" text-anchor="start" font-weight="bold" fill="#111">E</text>
<line x1="431.6" y1="214" x2="431.6" y2="262.4" stroke="#111" stroke-width="1.3"/>
<line x1="431.6" y1="262.4" x2="506.1" y2="262.4" stroke="#111" stroke-width="1.3"/>
<polygon points="431.6,211 429.6,215 433.6,215" fill="#111"/>
<polygon points="509.1,262.4 505.1,260.4 505.1,264.4" fill="#111"/>
<line x1="433.0" y1="268.5" x2="433.0" y2="317.0" stroke="#111" stroke-width="1.3"/>
<line x1="433.0" y1="317.0" x2="507.5" y2="317.0" stroke="#111" stroke-width="1.3"/>
<polygon points="433.0,265.5 431.0,269.5 435.0,269.5" fill="#111"/>
<polygon points="510.5,317.0 506.5,315.0 506.5,319.0" fill="#111"/>
<line x1="432.7" y1="324.5" x2="432.7" y2="373.3" stroke="#111" stroke-width="1.3"/>
<line x1="432.7" y1="373.3" x2="507.8" y2="373.3" stroke="#111" stroke-width="1.3"/>
<polygon points="432.7,321.5 430.7,325.5 434.7,325.5" fill="#111"/>
<polygon points="510.8,373.3 506.8,371.3 506.8,375.3" fill="#111"/>
<polygon points="434.8,213.9 434.8,259.4 506.2,259.4" fill="#F6F7FC" stroke="#5C6AA0" stroke-width="1.2" stroke-linejoin="bevel"/>
<polygon points="436.6,314.3 506.2,314.3 506.2,270.6" fill="#FEF9F9" stroke="#9B3F46" stroke-width="1.2" stroke-linejoin="bevel"/>
<rect x="436.6" y="327.1" width="69.4" height="42.4" fill="#FBFAFD" stroke="#7A6AA2" stroke-width="1.2"/>
<text transform="translate(438.8,235.8)" font-size="8" text-anchor="start" font-weight="normal" fill="#6F7FB6" textLength="20" lengthAdjust="spacingAndGlyphs" stroke="#6F7FB6" stroke-width="0.1">DL1 =</text>
<text transform="translate(438.8,245.3)" font-size="8" text-anchor="start" font-weight="normal" fill="#6F7FB6" textLength="17.5" lengthAdjust="spacingAndGlyphs" stroke="#6F7FB6" stroke-width="0.1">rapid</text>
<text transform="translate(438.8,254.7)" font-size="8" text-anchor="start" font-weight="normal" fill="#6F7FB6" textLength="42.4" lengthAdjust="spacingAndGlyphs" stroke="#6F7FB6" stroke-width="0.1">engraftment</text>
<text transform="translate(502.2,292.4)" font-size="8" text-anchor="end" font-weight="normal" fill="#A2444C" textLength="16.5" lengthAdjust="spacingAndGlyphs" stroke="#A2444C" stroke-width="0.1">FB =</text>
<text transform="translate(502.2,303.4)" font-size="8" text-anchor="end" font-weight="normal" fill="#A2444C" textLength="32.5" lengthAdjust="spacingAndGlyphs" stroke="#A2444C" stroke-width="0.1">long term</text>
<text transform="translate(502.2,312.2)" font-size="8" text-anchor="end" font-weight="normal" fill="#A2444C" textLength="42.5" lengthAdjust="spacingAndGlyphs" stroke="#A2444C" stroke-width="0.1">repopulation</text>
<text transform="translate(471.3,341.5)" font-size="8" text-anchor="middle" font-weight="normal" fill="#6C6292" textLength="37.5" lengthAdjust="spacingAndGlyphs" stroke="#6C6292" stroke-width="0.1">DL1 +FB =</text>
<text transform="translate(471.3,352.0)" font-size="8" text-anchor="middle" font-weight="normal" fill="#6C6292" textLength="26" lengthAdjust="spacingAndGlyphs" stroke="#6C6292" stroke-width="0.1">rapid &amp;</text>
<text transform="translate(471.3,360.9)" font-size="8" text-anchor="middle" font-weight="normal" fill="#6C6292" textLength="32.5" lengthAdjust="spacingAndGlyphs" stroke="#6C6292" stroke-width="0.1">sustained</text>
<text transform="translate(470.5,385.3)" font-size="8.4" text-anchor="middle" font-weight="normal" fill="#333" textLength="16.8" lengthAdjust="spacingAndGlyphs" stroke="#333" stroke-width="0.1">Time</text>
<text transform="translate(423.1,288.8) rotate(-90)" font-size="8.0" text-anchor="middle" font-weight="normal" fill="#333" textLength="70" lengthAdjust="spacingAndGlyphs" stroke="#333" stroke-width="0.1">Human Engraftment</text>
</svg>
</body></html>
